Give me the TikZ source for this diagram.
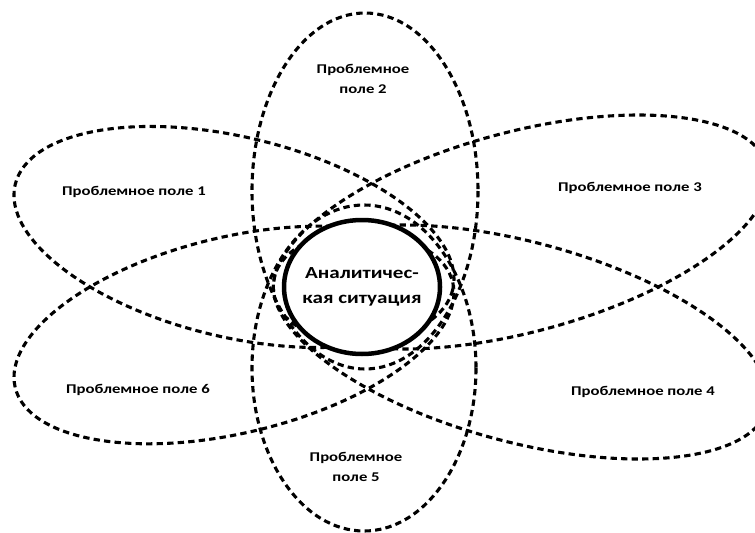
\documentclass[tikz,border=0pt]{standalone}
\usepackage{fontspec}
\setmainfont{Carlito}[FakeStretch=1.25]
\tikzset{
  petal/.style={line width=2.2pt, dash pattern=on 4.5pt off 3pt},
  fieldtext/.style={font=\fontsize{9.5}{14}\selectfont\bfseries, align=center, inner sep=0pt}
}

\begin{document}
\begin{tikzpicture}[x=0.025cm, y=-0.025cm]
\useasboundingbox (0,0) rectangle (755,532);
\clip (0,0) rectangle (755,532);

\coordinate (c1) at (234,237);
\coordinate (c2) at (365,191);
\coordinate (c3) at (521,232);
\coordinate (c4) at (521,342);
\coordinate (c5) at (364,368);
\coordinate (c6) at (234,335);
\coordinate (mid) at (362,287);

% problem fields
\draw[petal, rotate around={-13.5:(c1)}] (c1) ellipse [x radius=225, y radius=100];
\draw[petal] (c2) ellipse [x radius=113, y radius=178];
\draw[petal, rotate around={15:(c3)}] (c3) ellipse [x radius=255, y radius=100];
\draw[petal, rotate around={-15:(c4)}] (c4) ellipse [x radius=255, y radius=100];
\draw[petal] (c5) ellipse [x radius=112, y radius=163];
\draw[petal, rotate around={13.5:(c6)}] (c6) ellipse [x radius=225, y radius=98];

\draw[line width=3.2pt, fill=white] (mid) ellipse [x radius=78, y radius=67];

\node[fieldtext] (field1) at (134,192) {Проблемное поле 1};
\node[fieldtext] (field2) at (363,79) {Проблемное\\поле 2};
\node[fieldtext] (field3) at (630,188) {Проблемное поле 3};
\node[fieldtext] (field4) at (643,392) {Проблемное поле 4};
\node[fieldtext] (field5) at (356,467) {Проблемное\\поле 5};
\node[fieldtext] (field6) at (138,390) {Проблемное поле 6};
\node[font=\fontsize{12}{17.5}\selectfont\bfseries, align=center] (situation) at (mid) {Аналитичес-\\кая ситуация};
\end{tikzpicture}
\end{document}
